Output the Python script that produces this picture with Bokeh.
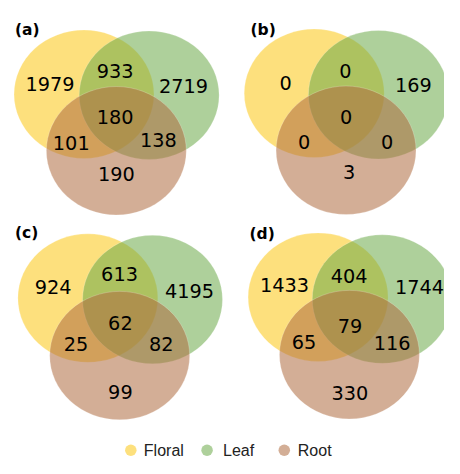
from bokeh.plotting import figure
from bokeh.models import Range1d, ColumnDataSource
from bokeh.embed import file_html
from bokeh.resources import INLINE
from bokeh.core.properties import value

# ---------------- data ----------------
set_names = ["Floral", "Leaf", "Root"]
panel_labels = ["(a)", "(b)", "(c)", "(d)"]
regions = ["Floral only", "Floral & Leaf", "Leaf only", "All three",
           "Floral & Root", "Leaf & Root", "Root only"]
counts_a = [1979, 933, 2719, 180, 101, 138, 190]
counts_b = [0, 0, 169, 0, 0, 0, 3]
counts_c = [924, 613, 4195, 62, 25, 82, 99]
counts_d = [1433, 404, 1744, 79, 65, 116, 330]
panel_counts = [counts_a, counts_b, counts_c, counts_d]

# ---------------- layout (reference-picture pixel units) ----------------
circle_centers = [
    [(86.5, 97.0), (154.0, 98.0), (120.0, 155.5)],
    [(325.0, 96.0), (391.5, 97.5), (358.0, 155.0)],
    [(90.5, 308.0), (157.5, 309.5), (123.5, 367.5)],
    [(329.0, 307.0), (395.5, 309.0), (361.5, 366.5)],
]
circle_w, circle_h = 145.0, 133.0
label_positions = [
    [(51.3, 86.7), (118.7, 73.3), (189.7, 88.5), (118.7, 120.5), (73.3, 147.2), (163.5, 144.5), (120.0, 180.0)],
    [(295.5, 85.0), (357.2, 72.8), (427.8, 87.5), (358.0, 120.5), (314.5, 146.2), (400.5, 146.2), (361.3, 177.8)],
    [(54.5, 296.3), (123.3, 283.0), (195.8, 300.3), (124.2, 333.7), (78.2, 355.5), (166.5, 355.5), (124.2, 405.0)],
    [(294.2, 294.0), (361.2, 285.5), (434.2, 297.0), (362.0, 337.2), (314.5, 353.7), (405.8, 354.7), (362.0, 406.0)],
]
panel_label_pos = [(15, 31), (259, 31), (15, 241), (258, 241.5)]
legend_marker_x = [135, 214, 294]
legend_text_x = [148.5, 230.5, 308]
legend_y = 465.5

set_colors = ["#FBC713", "#6CAA49", "#AF6C40"]
fill_alpha = 0.55

W, H = 444, 458
p = figure(width=W, height=H, output_backend="svg", toolbar_location=None,
           x_range=Range1d(0, 460), y_range=Range1d(474, 0),
           min_border=0)
p.axis.visible = False
p.grid.visible = False
p.outline_line_color = None
p.background_fill_color = "white"
p.border_fill_color = "white"

# circles
for centers in circle_centers:
    for (cx, cy), col in zip(centers, set_colors):
        p.ellipse(x=[cx], y=[cy], width=circle_w, height=circle_h,
                  fill_color=col, fill_alpha=fill_alpha,
                  line_color="white", line_alpha=0.22, line_width=1)

# region counts
for counts, pos in zip(panel_counts, label_positions):
    src = ColumnDataSource(dict(x=[q[0] for q in pos], y=[q[1] for q in pos],
                                t=[str(c) for c in counts], region=regions))
    p.text(x="x", y="y", text="t", source=src, text_align="center",
           text_baseline="middle", text_font=value("DejaVu Sans"),
           text_font_size="19.3px", text_color="black")

# panel labels
p.text(x=[q[0] for q in panel_label_pos], y=[q[1] for q in panel_label_pos],
       text=panel_labels, text_align="left", text_baseline="alphabetic",
       text_font=value("DejaVu Sans"), text_font_style="bold",
       text_font_size="15.5px", text_color="black")

# legend
p.scatter(x=legend_marker_x, y=[legend_y] * 3, marker="circle", size=11.5,
          fill_color=set_colors, fill_alpha=fill_alpha, line_color=None)
p.text(x=legend_text_x, y=[legend_y] * 3, text=set_names, text_align="left",
       text_baseline="middle", text_font=value("Liberation Sans"),
       text_font_size="16px", text_color="#222222")

open("out.html", "w").write(file_html(p, INLINE))
